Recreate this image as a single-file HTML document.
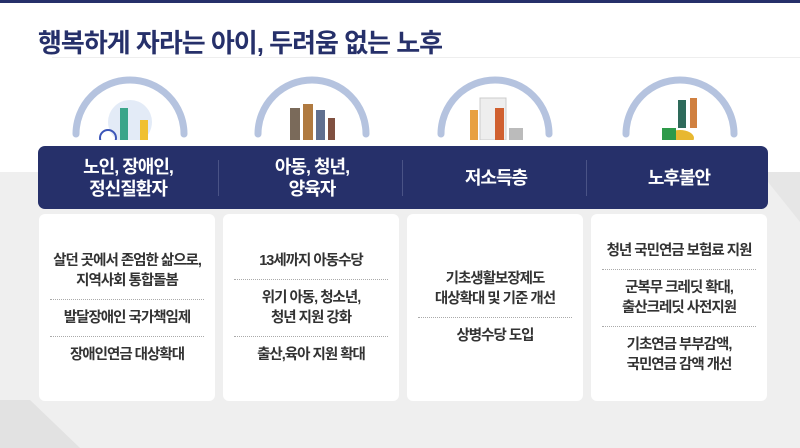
<!DOCTYPE html>
<html><head><meta charset="utf-8"><style>
*{margin:0;padding:0;box-sizing:border-box}
body{width:800px;height:448px;overflow:hidden;position:relative;background:#fff;font-family:"Liberation Sans","Noto Sans CJK KR",sans-serif}
.top{position:absolute;left:0;top:0;width:800px;height:3px;background:#26306a}
.bg{position:absolute;left:0;top:172px;width:800px;height:276px;background:#efefef}
.title{position:absolute;left:38px;top:23px;font-size:26px;font-weight:bold;color:#26306a;letter-spacing:-1px}
.uline{position:absolute;left:52px;top:57px;width:748px;height:1px;background:#eee}
.bar{position:absolute;left:38px;top:146px;width:730px;height:63px;background:#26306a;border-radius:7px}
.hd{position:absolute;top:146px;height:63px;display:flex;align-items:center;justify-content:center;text-align:center;color:#fff;font-weight:bold;font-size:18px;line-height:22px;letter-spacing:-1px}
.sep{position:absolute;top:160px;width:1px;height:36px;background:#4a5386}
.card{position:absolute;top:214px;width:176px;height:187px;background:#fff;border-radius:6px;display:flex;flex-direction:column;justify-content:center;align-items:center;text-align:center;font-weight:bold;font-size:14.5px;line-height:20px;color:#333;letter-spacing:-1px}
.card .d{width:154px;border-top:1px dotted #aaa;margin:8px 0}
</style></head><body>
<div class="top"></div>
<div class="bg"></div>
<svg style="position:absolute;left:0;top:172px" width="800" height="276"><polygon points="30,228 80,276 0,276 0,228" fill="#e2e2e2"/><polygon points="760,0 800,50 800,0" fill="#e6e6e6"/></svg>
<div class="title">행복하게 자라는 아이, 두려움 없는 노후</div>
<div class="uline"></div>
<svg style="position:absolute;left:0;top:0" width="800" height="160">
<g fill="none" stroke="#b5c3df" stroke-width="7" stroke-linecap="round">
<path d="M76,134 A54,54 0 0 1 184,134"/>
<path d="M258,134 A54,54 0 0 1 366,134"/>
<path d="M441,134 A54,54 0 0 1 549,134"/>
<path d="M626,134 A54,54 0 0 1 734,134"/>
</g>
<g>
<circle cx="130" cy="122" r="22" fill="#e3ebf7"/><rect x="120" y="108" width="8" height="36" fill="#3aa58a"/><circle cx="108" cy="138" r="8" fill="none" stroke="#3b55b8" stroke-width="2"/><rect x="140" y="120" width="8" height="24" fill="#f0c030"/>
<rect x="290" y="108" width="10" height="38" fill="#7a6a5a"/><rect x="303" y="104" width="10" height="42" fill="#b07a40"/><rect x="316" y="110" width="9" height="36" fill="#607090"/><rect x="328" y="118" width="7" height="28" fill="#805040"/>
<rect x="480" y="98" width="26" height="42" fill="#eee" stroke="#ccc"/><rect x="470" y="110" width="8" height="30" fill="#e8a040"/><rect x="495" y="108" width="9" height="32" fill="#d06030"/><rect x="509" y="128" width="14" height="14" fill="#bbb"/>
<ellipse cx="680" cy="138" rx="14" ry="8" fill="#e8b830"/><rect x="662" y="128" width="14" height="12" fill="#2e9a4a"/><rect x="678" y="100" width="8" height="28" fill="#2e6a5a"/><rect x="690" y="98" width="7" height="30" fill="#d08040"/>
</g>
</svg>
<div class="bar"></div>
<svg style="position:absolute;left:0;top:138px" width="800" height="10">
<path d="M84,8 L92,2 H166 L174,8Z M268,8 L276,2 H350 L358,8Z M451,8 L459,2 H533 L541,8Z M636,8 L644,2 H718 L726,8Z" fill="#fff"/>
</svg>
<div class="sep" style="left:218px"></div><div class="sep" style="left:402px"></div><div class="sep" style="left:586px"></div>
<div class="hd" style="left:38px;width:180px">노인, 장애인,<br>정신질환자</div>
<div class="hd" style="left:222px;width:180px">아동, 청년,<br>양육자</div>
<div class="hd" style="left:406px;width:180px">저소득층</div>
<div class="hd" style="left:590px;width:178px">노후불안</div>
<div class="card" style="left:39px">살던 곳에서 존엄한 삶으로,<br>지역사회 통합돌봄<div class="d"></div>발달장애인 국가책임제<div class="d"></div>장애인연금 대상확대</div>
<div class="card" style="left:223px">13세까지 아동수당<div class="d"></div>위기 아동, 청소년,<br>청년 지원 강화<div class="d"></div>출산,육아 지원 확대</div>
<div class="card" style="left:407px">기초생활보장제도<br>대상확대 및 기준 개선<div class="d"></div>상병수당 도입</div>
<div class="card" style="left:591px">청년 국민연금 보험료 지원<div class="d"></div>군복무 크레딧 확대,<br>출산크레딧 사전지원<div class="d"></div>기초연금 부부감액,<br>국민연금 감액 개선</div>
</body></html>
